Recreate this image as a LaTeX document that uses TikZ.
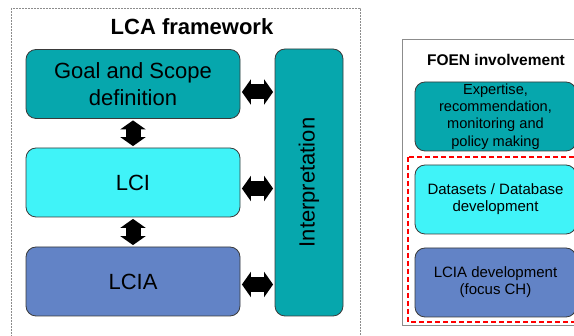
\documentclass[tikz,border=0pt]{standalone}
\usepackage{fontspec}
\setmainfont{Liberation Sans}
\usetikzlibrary{arrows.meta}
\definecolor{lcateal}{HTML}{06A7AD}
\definecolor{lcacyan}{HTML}{40F3F8}
\definecolor{lcablue}{HTML}{6283C6}
\definecolor{boxline}{HTML}{3A3A3A}
\definecolor{framegray}{HTML}{8C8C8C}

\begin{document}
\begin{tikzpicture}[x=1pt, y=-1pt,
  lcabox/.style={rectangle, draw=boxline, line width=0.8pt, rounded corners=10pt, minimum width=214pt, minimum height=69pt, inner sep=0pt, align=center, font=\fontsize{22}{26.5}\selectfont},
  foenbox/.style={lcabox, minimum width=161pt, font=\fontsize{14.6}{17.3}\selectfont},
  blockarrow/.style={line width=15pt, {Triangle[length=9pt,width=25pt]}-{Triangle[length=9pt,width=25pt]}, shorten <=1.5pt, shorten >=1.5pt}
]
  \clip (0,0) rectangle (574,336);
  % frames
  \draw[framegray, line width=0.8pt, dash pattern=on 2pt off 1pt] (11,8) rectangle (360,345);
  \draw[framegray, line width=0.8pt] (402,39) rectangle (590,325);
  \draw[red, line width=1.5pt, dash pattern=on 5pt off 3pt] (408,157) rectangle (590,322);
  \node[font=\fontsize{22}{26}\selectfont\bfseries] (lcatitle) at (192,27) {LCA framework};
  \node[font=\fontsize{15.5}{18}\selectfont\bfseries] (foentitle) at (496,60) {FOEN involvement};

  % LCA phases
  \node[lcabox, fill=lcateal] (goal) at (133,84) {Goal and Scope\\definition};
  \node[lcabox, fill=lcacyan] (lci) at (133,182.5) {LCI};
  \node[lcabox, fill=lcablue] (lcia) at (133,281.5) {LCIA};
  \node[lcabox, fill=lcateal, rotate=90, minimum width=267pt, minimum height=68pt] (interp) at (309,182.5) {Interpretation};

  \draw[blockarrow] (goal.south) -- (lci.north);
  \draw[blockarrow] (lci.south) -- (lcia.north);
  \draw[blockarrow] ([yshift=-8pt]goal.east) -- ([yshift=-8pt]goal.east -| interp.north);
  \draw[blockarrow] ([yshift=-6pt]lci.east) -- ([yshift=-6pt]lci.east -| interp.north);
  \draw[blockarrow] ([yshift=-3pt]lcia.east) -- ([yshift=-3pt]lcia.east -| interp.north);

  % FOEN involvement
  \node[foenbox, fill=lcateal] (expertise) at (495.5,116.5) {Expertise,\\recommendation,\\monitoring and\\policy making};
  \node[foenbox, fill=lcacyan, font=\fontsize{15}{17}\selectfont] (datasets) at (495.5,199.5) {Datasets / Database\\development};
  \node[foenbox, fill=lcablue, font=\fontsize{15}{17}\selectfont] (lciadev) at (495.5,282.5) {LCIA development\\(focus CH)};
\end{tikzpicture}
\end{document}
